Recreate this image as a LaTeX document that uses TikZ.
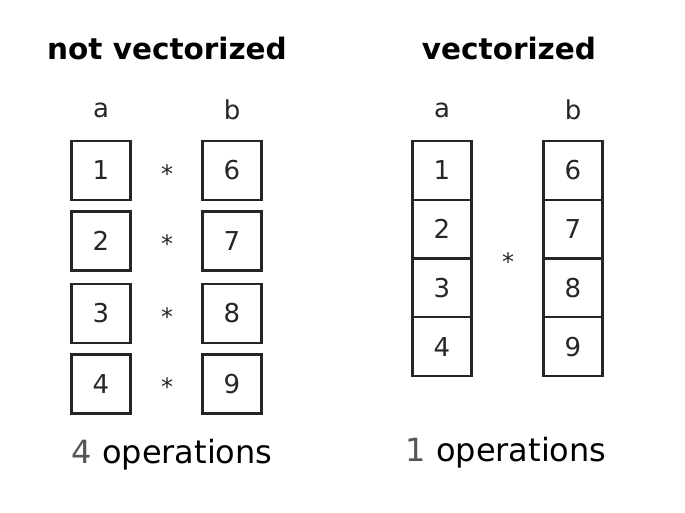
\documentclass[tikz,border=0pt]{standalone}
\usepackage{fontspec}
\setmainfont{DejaVu Sans}
\usepackage{tikz}
\definecolor{boxline}{HTML}{262626}
\definecolor{countgray}{HTML}{555555}

\begin{document}
\begin{tikzpicture}[x=1pt, y=-1pt,
  cell/.style={draw=boxline, line width=2.2pt, minimum width=59pt, minimum height=59pt, inner sep=0pt, font=\fontsize{26}{30}\selectfont, text=black!85},
  vcell/.style={cell, minimum height=58.75pt},
  title/.style={font=\fontsize{29.5}{34}\selectfont\bfseries, text=black},
  label/.style={font=\fontsize{26}{30}\selectfont, text=black!85},
  times/.style={font=\fontsize{24}{28}\selectfont, text=black!85},
  ops/.style={font=\fontsize{32}{38}\selectfont}]
\useasboundingbox (0,0) rectangle (685,512);

% not vectorized
\node [title] (t1) at (167,48) {not vectorized};
\node [label] (la1) at (101,110) {a};
\node [label] (lb1) at (232,110) {b};
\node [cell] (a1) at (101,170.5) {1};
\node [cell] (a2) at (101,241) {2};
\node [cell] (a3) at (101,313.5) {3};
\node [cell] (a4) at (101,384) {4};
\node [cell] (b1) at (232,170.5) {6};
\node [cell] (b2) at (232,241) {7};
\node [cell] (b3) at (232,313.5) {8};
\node [cell] (b4) at (232,384) {9};
\node [times] (m1) at (167,174) {*};
\node [times] (m2) at (167,244) {*};
\node [times] (m3) at (167,317) {*};
\node [times] (m4) at (167,387) {*};
\node [ops] (o1) at (172,455) {\textcolor{countgray}{4} operations};

% vectorized
\node [title] (t2) at (509,48) {vectorized};
\node [label] (la2) at (442,110) {a};
\node [label] (lb2) at (573,110) {b};
\node [vcell] (c1) at (442,170.4) {1};
\node [vcell] (c2) at (442,229.1) {2};
\node [vcell] (c3) at (442,287.9) {3};
\node [vcell] (c4) at (442,346.6) {4};
\node [vcell] (d1) at (573,170.4) {6};
\node [vcell] (d2) at (573,229.1) {7};
\node [vcell] (d3) at (573,287.9) {8};
\node [vcell] (d4) at (573,346.6) {9};
\node [times] (m5) at (508,262) {*};
\node [ops] (o2) at (506,453) {\textcolor{countgray}{1} operations};
\end{tikzpicture}
\end{document}
